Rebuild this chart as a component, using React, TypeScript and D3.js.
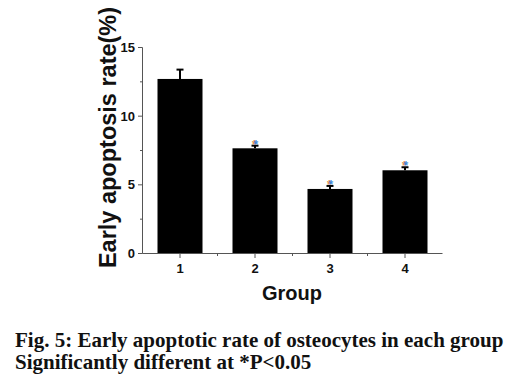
import React from "react";
import * as d3 from "d3";

const groups = [1, 2, 3, 4];
const means = [12.71, 7.66, 4.7, 6.06];
const errors = [0.68, 0.19, 0.22, 0.22];
const significant = [false, true, true, true];
const yMajorTicks = [0, 5, 10, 15];
const yMinorTicks = [2.5, 7.5, 12.5];
const xMinorTicks = [1.5, 2.5, 3.5];
const yLabel = "Early apoptosis rate(%)";
const xLabel = "Group";
const caption1 = "Fig. 5: Early apoptotic rate of osteocytes in each group";
const caption2 = "Significantly different at *P<0.05";

export default function App() {
  const W = 510, H = 382;
  const x = d3.scaleLinear().domain([0.5, 4.5]).range([142.5, 442.5]);
  const y = d3.scaleLinear().domain([0, 15]).range([253.5, 47.5]);
  const barW = 45;
  const sans = "Liberation Sans, Arial, sans-serif";
  const serif = "Liberation Serif, Times New Roman, serif";
  return (
    <svg width={W} height={H} style={{ position: "absolute", left: 0, top: 0, background: "#fff" }}>
      <rect width={W} height={H} fill="#fff" />
      {groups.map((g, i) => {
        const cx = x(g);
        const top = y(means[i]);
        const et = y(means[i] + errors[i]);
        return (
          <g key={g}>
            <rect x={cx - barW / 2} y={top} width={barW} height={y(0) - top} fill="#000" />
            <line x1={cx} x2={cx} y1={top} y2={et} stroke="#000" strokeWidth={2} />
            <line x1={cx - 3.5} x2={cx + 3.5} y1={et} y2={et} stroke="#000" strokeWidth={2} />
            {significant[i] && (
              <g>
                <text x={cx - 0.6} y={et + 3} textAnchor="middle" fontFamily={sans} fontWeight="bold" fontSize={12} fill="#e8892a">*</text>
                <text x={cx + 0.8} y={et + 3} textAnchor="middle" fontFamily={sans} fontWeight="bold" fontSize={12} fill="#1f7fe0" opacity={0.85}>*</text>
              </g>
            )}
          </g>
        );
      })}
      {/* y axis */}
      <line x1={142.5} x2={142.5} y1={y(15)} y2={y(0)} stroke="#555" strokeWidth={1} />
      {yMajorTicks.map((t) => (
        <g key={t}>
          <line x1={138} x2={142.5} y1={y(t)} y2={y(t)} stroke="#555" />
          <text x={135} y={y(t)} dy="0.35em" textAnchor="end" fontFamily={sans} fontWeight="bold" fontSize={13} fill="#111">{t}</text>
        </g>
      ))}
      {yMinorTicks.map((t) => (
        <line key={t} x1={140} x2={142.5} y1={y(t)} y2={y(t)} stroke="#555" />
      ))}
      {/* x axis */}
      <line x1={142.5} x2={442.5} y1={253.5} y2={253.5} stroke="#555" strokeWidth={1} />
      {groups.map((g) => (
        <g key={g}>
          <line x1={x(g)} x2={x(g)} y1={253.5} y2={258} stroke="#555" />
          <text x={x(g)} y={273} textAnchor="middle" fontFamily={sans} fontWeight="bold" fontSize={13} fill="#111">{g}</text>
        </g>
      ))}
      {xMinorTicks.map((t) => (
        <line key={t} x1={x(t)} x2={x(t)} y1={253.5} y2={256} stroke="#555" />
      ))}
      <text x={292} y={300} textAnchor="middle" fontFamily={sans} fontWeight="bold" fontSize={20} fill="#111">{xLabel}</text>
      <text transform="translate(116,137.5) rotate(-90)" textAnchor="middle" fontFamily={sans} fontWeight="bold" fontSize={23.5} fill="#111">{yLabel}</text>
      <text x={15} y={347} fontFamily={serif} fontWeight="bold" fontSize={21} fill="#111">{caption1}</text>
      <text x={15} y={369} fontFamily={serif} fontWeight="bold" fontSize={21} fill="#111">{caption2}</text>
    </svg>
  );
}
